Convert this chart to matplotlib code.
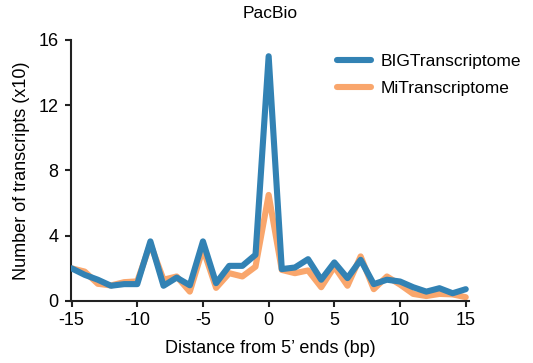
import matplotlib
matplotlib.use("Agg")
import matplotlib.pyplot as plt
import numpy as np

plt.rcParams['font.family'] = ['Liberation Sans', 'DejaVu Sans']
plt.rcParams['axes.unicode_minus'] = False

x = list(range(-15, 16))
big = [2.0, 1.6, 1.3, 0.93, 1.03, 1.03, 3.65, 0.93, 1.43, 0.96, 3.65, 1.09, 2.15, 2.15, 2.83,
       15.0, 1.95, 2.05, 2.56, 1.3, 2.36, 1.4, 2.52, 1.03, 1.3, 1.19, 0.84, 0.57, 0.78, 0.47, 0.72]
mi = [2.0, 1.8, 1.05, 0.95, 1.15, 1.2, 3.5, 1.3, 1.5, 0.57, 3.2, 0.8, 1.7, 1.5, 2.1,
      6.5, 1.9, 1.7, 1.87, 0.84, 2.1, 0.93, 2.73, 0.72, 1.5, 1.0, 0.43, 0.3, 0.43, 0.4, 0.23]

fig = plt.figure(figsize=(5.33, 3.63), dpi=100)
ax = fig.add_axes([0.133, 0.171, 0.747, 0.719])
ax.plot(x, mi, color='#f9a66c', lw=4.4, label='MiTranscriptome', solid_capstyle='round', zorder=2)
ax.plot(x, big, color='#3282b4', lw=4.4, label='BIGTranscriptome', solid_capstyle='round', zorder=3)

ax.set_xlim(-15.05, 15.25)
ax.set_ylim(0, 16)
ax.set_xticks([-15, -10, -5, 0, 5, 10, 15])
ax.set_yticks([0, 4, 8, 12, 16])
for s in ['top', 'right']:
    ax.spines[s].set_visible(False)
for s in ['left', 'bottom']:
    ax.spines[s].set_linewidth(1.5)
    ax.spines[s].set_color('#222222')
ax.tick_params(direction='out', length=4, width=1.5, color='#222222', labelsize=13)
ax.tick_params(axis='x', pad=4)
ax.tick_params(axis='y', pad=5)
ax.set_xlabel("Distance from 5\u2019 ends (bp)", fontsize=13, labelpad=8)
ax.set_ylabel("Number of transcripts (x10)", fontsize=13, labelpad=6)
ax.set_title("PacBio", fontsize=12.5, pad=16)

handles, labels = ax.get_legend_handles_labels()
ax.legend(handles[::-1], labels[::-1], loc='upper right', bbox_to_anchor=(1.17, 1.005), frameon=False,
          fontsize=12.5, handlelength=1.95, handletextpad=0.55, labelspacing=0.65)

fig.savefig('out.png', dpi=100)
